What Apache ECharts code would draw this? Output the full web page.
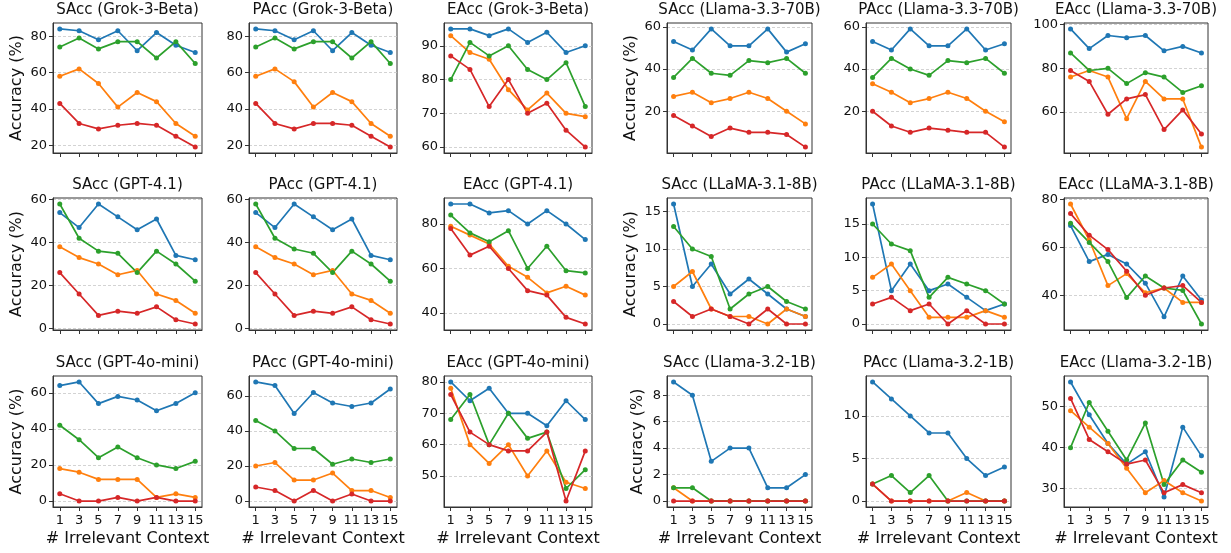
<!DOCTYPE html>
<html>
<head>
<meta charset="utf-8">
<script src="https://cdn.jsdelivr.net/npm/echarts@6/dist/echarts.min.js"></script>
<style>
    html, body { margin: 0; padding: 0; background: #fff; }
    #chart { width: 1231px; height: 553px; }
</style>
</head>
<body>
<div id="chart"></div>
<script>
    const xCounts = [1, 3, 5, 7, 9, 11, 13, 15];

    // every panel: [blue, orange, green, red]
    const sAccGrok = [[84, 83, 78, 83, 72, 82, 75, 71], [58, 62, 54, 41, 49, 44, 32, 25], [74, 79, 73, 77, 77, 68, 77, 65], [43, 32, 29, 31, 32, 31, 25, 19]];
    const pAccGrok = [[84, 83, 78, 83, 72, 82, 75, 71], [58, 62, 55, 41, 49, 44, 32, 25], [74, 79, 73, 77, 77, 68, 77, 65], [43, 32, 29, 32, 32, 31, 25, 19]];
    const eAccGrok = [[95, 95, 93, 95, 91, 94, 88, 90], [93, 88, 86, 77, 71, 76, 70, 69], [80, 91, 87, 90, 83, 80, 85, 72], [87, 83, 72, 80, 70, 73, 65, 60]];
    const sAccL33 = [[53, 49, 59, 51, 51, 59, 48, 52], [27, 29, 24, 26, 29, 26, 20, 14], [36, 45, 38, 37, 44, 43, 45, 38], [18, 13, 8, 12, 10, 10, 9, 3]];
    const pAccL33 = [[53, 49, 59, 51, 51, 59, 49, 52], [33, 29, 24, 26, 29, 26, 20, 15], [36, 45, 40, 37, 44, 43, 45, 38], [20, 13, 10, 12, 11, 10, 10, 3]];
    const eAccL33 = [[98, 89, 95, 94, 95, 88, 90, 87], [76, 79, 76, 57, 74, 66, 66, 44], [87, 79, 80, 73, 78, 76, 69, 72], [79, 74, 59, 66, 68, 52, 61, 50]];

    const sAccGpt41 = [[54, 47, 58, 52, 46, 51, 34, 32], [38, 33, 30, 25, 27, 16, 13, 7], [58, 42, 36, 35, 26, 36, 30, 22], [26, 16, 6, 8, 7, 10, 4, 2]];
    const pAccGpt41 = [[54, 47, 58, 52, 46, 51, 34, 32], [38, 33, 30, 25, 27, 16, 13, 7], [58, 42, 37, 35, 26, 36, 30, 22], [26, 16, 6, 8, 7, 10, 4, 2]];
    const eAccGpt41 = [[89, 89, 85, 86, 80, 86, 80, 73], [79, 75, 71, 61, 56, 49, 52, 48], [84, 76, 72, 77, 60, 70, 59, 58], [78, 66, 70, 60, 50, 48, 38, 35]];
    const sAccL31 = [[16, 5, 8, 4, 6, 4, 2, 1], [5, 7, 2, 1, 1, 0, 2, 1], [13, 10, 9, 2, 4, 5, 3, 2], [3, 1, 2, 1, 0, 2, 0, 0]];
    const pAccL31 = [[18, 5, 9, 5, 6, 4, 2, 3], [7, 9, 5, 1, 1, 1, 2, 1], [15, 12, 11, 4, 7, 6, 5, 3], [3, 4, 2, 3, 0, 2, 0, 0]];
    const eAccL31 = [[69, 54, 57, 53, 45, 31, 48, 38], [78, 63, 44, 49, 41, 43, 37, 37], [70, 62, 54, 39, 48, 43, 42, 28], [74, 65, 59, 50, 40, 43, 44, 37]];

    const sAccMini = [[64, 66, 54, 58, 56, 50, 54, 60], [18, 16, 12, 12, 12, 2, 4, 2], [42, 34, 24, 30, 24, 20, 18, 22], [4, 0, 0, 2, 0, 2, 0, 0]];
    const pAccMini = [[68, 66, 50, 62, 56, 54, 56, 64], [20, 22, 12, 12, 16, 6, 6, 2], [46, 40, 30, 30, 21, 24, 22, 24], [8, 6, 0, 6, 0, 4, 0, 0]];
    const eAccMini = [[80, 74, 78, 70, 70, 66, 74, 68], [78, 60, 54, 60, 50, 58, 48, 46], [68, 76, 60, 70, 62, 64, 46, 52], [76, 64, 60, 58, 58, 64, 42, 58]];
    const sAccL32 = [[9, 8, 3, 4, 4, 1, 1, 2], [1, 0, 0, 0, 0, 0, 0, 0], [1, 1, 0, 0, 0, 0, 0, 0], [0, 0, 0, 0, 0, 0, 0, 0]];
    const pAccL32 = [[14, 12, 10, 8, 8, 5, 3, 4], [2, 0, 0, 0, 0, 1, 0, 0], [2, 3, 1, 3, 0, 0, 0, 0], [2, 0, 0, 0, 0, 0, 0, 0]];
    const eAccL32 = [[56, 48, 41, 36, 39, 28, 45, 38], [49, 45, 41, 35, 29, 32, 29, 27], [40, 51, 44, 37, 46, 31, 37, 34], [52, 42, 39, 36, 37, 29, 31, 29]];

    const panels = [
        sAccGrok, pAccGrok, eAccGrok, sAccL33, pAccL33, eAccL33,
        sAccGpt41, pAccGpt41, eAccGpt41, sAccL31, pAccL31, eAccL31,
        sAccMini, pAccMini, eAccMini, sAccL32, pAccL32, eAccL32
    ];
    const panelTitles = [
        'SAcc (Grok-3-Beta)', 'PAcc (Grok-3-Beta)', 'EAcc (Grok-3-Beta)',
        'SAcc (Llama-3.3-70B)', 'PAcc (Llama-3.3-70B)', 'EAcc (Llama-3.3-70B)',
        'SAcc (GPT-4.1)', 'PAcc (GPT-4.1)', 'EAcc (GPT-4.1)',
        'SAcc (LLaMA-3.1-8B)', 'PAcc (LLaMA-3.1-8B)', 'EAcc (LLaMA-3.1-8B)',
        'SAcc (GPT-4o-mini)', 'PAcc (GPT-4o-mini)', 'EAcc (GPT-4o-mini)',
        'SAcc (Llama-3.2-1B)', 'PAcc (Llama-3.2-1B)', 'EAcc (Llama-3.2-1B)'
    ];
    const yTickStep = [
        20, 20, 10, 20, 20, 20,
        20, 20, 20, 5, 5, 20,
        20, 20, 10, 2, 5, 10
    ];

    const colors = ['#1f77b4', '#ff7f0e', '#2ca02c', '#d62728'];
    const font = 'DejaVu Sans';
    const gridLefts = [53, 249, 444, 667, 866, 1064];
    const gridWidths = [149, 148, 148, 145, 145, 144];
    const gridTops = [23, 198, 376];
    const gridHeights = [130, 132, 131];

    let grids = [], xAxes = [], yAxes = [], titles = [], series = [];

    panels.forEach(function (panel, i) {
        let row = Math.floor(i / 6), col = i % 6;
        let flat = [].concat.apply([], panel);
        let lo = Math.min.apply(null, flat), hi = Math.max.apply(null, flat);
        let pad = (hi - lo) * 0.05;
        let yMin = lo - pad, yMax = hi + pad;
        let step = yTickStep[i];
        let ticks = [];
        for (let v = Math.ceil(yMin / step) * step; v <= yMax + 1e-9; v += step) ticks.push(v);
        let twoDigit = ticks.some(function (t) { return t >= 10; });

        grids.push({
            left: gridLefts[col], top: gridTops[row],
            width: gridWidths[col], height: gridHeights[row],
            show: true, borderColor: '#333', borderWidth: 1
        });
        titles.push({
            text: panelTitles[i],
            left: gridLefts[col] + gridWidths[col] / 2,
            top: gridTops[row] - 20,
            textAlign: 'center',
            padding: 0,
            textStyle: { fontFamily: font, fontSize: 15, fontWeight: 'normal', color: '#111' }
        });
        xAxes.push({
            type: 'value', gridIndex: i, min: 0.3, max: 15.7,
            name: row === 2 ? '# Irrelevant Context' : '',
            nameLocation: 'middle', nameGap: 24,
            nameTextStyle: { fontFamily: font, fontSize: 16, color: '#111' },
            axisLine: { onZero: false, lineStyle: { color: '#333', width: 1 } },
            axisTick: { show: true, length: 4, customValues: xCounts, lineStyle: { color: '#333' } },
            axisLabel: {
                show: row === 2, customValues: xCounts, margin: 7,
                fontFamily: font, fontSize: 13, color: '#111'
            },
            splitLine: { show: false }
        });
        yAxes.push({
            type: 'value', gridIndex: i, min: yMin, max: yMax,
            name: (col === 0 || col === 3) ? 'Accuracy (%)' : '',
            nameLocation: 'middle', nameGap: twoDigit ? 28 : 21,
            nameTextStyle: { fontFamily: font, fontSize: 16, color: '#111' },
            axisLine: { onZero: false, lineStyle: { color: '#333', width: 1 } },
            axisTick: { show: true, length: 4, customValues: ticks, lineStyle: { color: '#333' } },
            axisLabel: {
                customValues: ticks, margin: 6,
                fontFamily: font, fontSize: 13, color: '#111',
                formatter: function (v) { return String(Math.round(v)); }
            },
            splitLine: { show: true, lineStyle: { color: '#c8c8c8', width: 0.8, type: [3, 2] } }
        });
        panel.forEach(function (vals, k) {
            series.push({
                type: 'line', xAxisIndex: i, yAxisIndex: i,
                data: xCounts.map(function (x, j) { return [x, vals[j]]; }),
                symbol: 'circle', symbolSize: 5, showSymbol: true,
                lineStyle: { color: colors[k], width: 1.7 },
                itemStyle: { color: colors[k] },
                animation: false, silent: true
            });
        });
    });

    let chart = echarts.init(document.getElementById('chart'));
    chart.setOption({
        animation: false,
        title: titles,
        grid: grids,
        xAxis: xAxes,
        yAxis: yAxes,
        series: series
    });
</script>
</body>
</html>
